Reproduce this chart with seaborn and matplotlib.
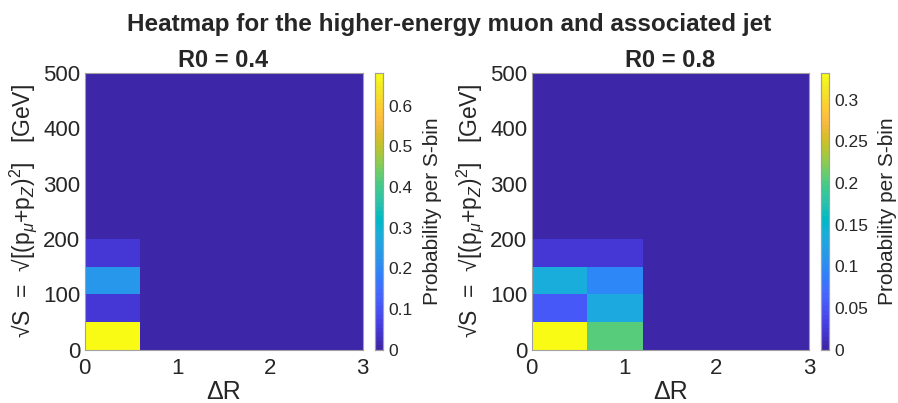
import numpy as np
import pandas as pd
import matplotlib
matplotlib.use("Agg")
import matplotlib.pyplot as plt
from matplotlib.colors import ListedColormap
import seaborn as sns

# ---- data ----
dr_edges = [0.0, 0.6, 1.2, 1.8, 2.4, 3.0]          # Delta R bin edges
s_edges = [0, 50, 100, 150, 200, 250, 300, 350, 400, 450, 500]  # sqrt(S) bin edges [GeV]
x_tick_vals = [0, 1, 2, 3]
y_tick_vals = [0, 100, 200, 300, 400, 500]
cb1_ticks = [0, 0.1, 0.2, 0.3, 0.4, 0.5, 0.6]
cb2_ticks = [0, 0.05, 0.1, 0.15, 0.2, 0.25, 0.3]

# rows: S bins from 0-50 upward; columns: Delta R bins
r04_col0 = [0.68, 0.045, 0.225, 0.045, 0.0, 0.0, 0.0, 0.0, 0.0, 0.0]
r04_col1 = [0.0] * 10
r04_col2 = [0.0] * 10
r04_col3 = [0.0] * 10
r04_col4 = [0.0] * 10

r08_col0 = [0.332, 0.055, 0.135, 0.021, 0.004, 0.0, 0.0, 0.0, 0.0, 0.0]
r08_col1 = [0.207, 0.132, 0.097, 0.021, 0.004, 0.0, 0.0, 0.0, 0.0, 0.0]
r08_col2 = [0.0] * 10
r08_col3 = [0.0] * 10
r08_col4 = [0.0] * 10

titles = ["R0 = 0.4", "R0 = 0.8"]
suptitle = "Heatmap for the higher-energy muon and associated jet"
cbar_label = "Probability per S-bin"

# ---- parula colormap ----
parula = [
    [0.2422, 0.1504, 0.6603], [0.2504, 0.1650, 0.7076], [0.2578, 0.1818, 0.7511],
    [0.2647, 0.1978, 0.7952], [0.2706, 0.2147, 0.8364], [0.2751, 0.2342, 0.8710],
    [0.2783, 0.2559, 0.8991], [0.2803, 0.2782, 0.9221], [0.2813, 0.3006, 0.9414],
    [0.2810, 0.3228, 0.9579], [0.2795, 0.3447, 0.9717], [0.2760, 0.3667, 0.9829],
    [0.2699, 0.3892, 0.9906], [0.2602, 0.4123, 0.9952], [0.2440, 0.4358, 0.9988],
    [0.2206, 0.4603, 0.9973], [0.1963, 0.4847, 0.9892], [0.1834, 0.5074, 0.9798],
    [0.1786, 0.5289, 0.9682], [0.1764, 0.5499, 0.9520], [0.1687, 0.5703, 0.9359],
    [0.1540, 0.5902, 0.9218], [0.1460, 0.6091, 0.9079], [0.1380, 0.6276, 0.8973],
    [0.1248, 0.6459, 0.8883], [0.1113, 0.6635, 0.8763], [0.0952, 0.6798, 0.8598],
    [0.0689, 0.6948, 0.8394], [0.0297, 0.7082, 0.8163], [0.0036, 0.7203, 0.7917],
    [0.0067, 0.7312, 0.7660], [0.0433, 0.7411, 0.7394], [0.0964, 0.7500, 0.7120],
    [0.1408, 0.7584, 0.6842], [0.1717, 0.7670, 0.6554], [0.1938, 0.7758, 0.6251],
    [0.2161, 0.7843, 0.5923], [0.2470, 0.7918, 0.5567], [0.2906, 0.7973, 0.5188],
    [0.3406, 0.8008, 0.4789], [0.3909, 0.8029, 0.4354], [0.4456, 0.8024, 0.3909],
    [0.5044, 0.7993, 0.3480], [0.5616, 0.7942, 0.3045], [0.6174, 0.7876, 0.2612],
    [0.6720, 0.7793, 0.2227], [0.7242, 0.7698, 0.1910], [0.7738, 0.7598, 0.1646],
    [0.8203, 0.7498, 0.1535], [0.8634, 0.7406, 0.1596], [0.9035, 0.7330, 0.1774],
    [0.9393, 0.7288, 0.2100], [0.9728, 0.7298, 0.2394], [0.9956, 0.7434, 0.2371],
    [0.9970, 0.7659, 0.2199], [0.9952, 0.7893, 0.2028], [0.9892, 0.8136, 0.1885],
    [0.9786, 0.8386, 0.1766], [0.9676, 0.8639, 0.1643], [0.9610, 0.8890, 0.1537],
    [0.9597, 0.9135, 0.1423], [0.9628, 0.9373, 0.1265], [0.9691, 0.9606, 0.1064],
    [0.9769, 0.9839, 0.0805]]
cmap = ListedColormap(parula, name="parula")

sns.set_theme(style="white")
plt.rcParams["font.family"] = ["Liberation Sans", "DejaVu Sans"]
plt.rcParams["mathtext.fontset"] = "custom"
plt.rcParams["mathtext.rm"] = "Liberation Sans"
plt.rcParams["mathtext.it"] = "Liberation Sans:italic"

W, H = 898, 403
fig = plt.figure(figsize=(W / 100, H / 100), dpi=100)

def fx(px):
    return px / W

def fy(py):
    return 1 - py / H

axes_px = [(84.5, 362.5, 375, 383), (531.5, 809, 821, 829)]
top_px, bot_px = 73, 349.5

datasets = [
    np.column_stack([r04_col0, r04_col1, r04_col2, r04_col3, r04_col4]),
    np.column_stack([r08_col0, r08_col1, r08_col2, r08_col3, r08_col4]),
]
cticks = [cb1_ticks, cb2_ticks]
edge_col = "#a0a0a0"
txt_col = "#262626"

nx = len(dr_edges) - 1
ny = len(s_edges) - 1
dx = dr_edges[1] - dr_edges[0]
dy = s_edges[1] - s_edges[0]

for i, (vals, title) in enumerate(zip(datasets, titles)):
    l, r, cl, cr = axes_px[i]
    ax = fig.add_axes([fx(l), fy(bot_px), fx(r - l), fy(top_px) - fy(bot_px)])
    cax = fig.add_axes([fx(cl), fy(bot_px), fx(cr - cl), fy(top_px) - fy(bot_px)])
    df = pd.DataFrame(vals, index=s_edges[:-1], columns=dr_edges[:-1])
    sns.heatmap(df, ax=ax, cmap=cmap, vmin=0, vmax=float(vals.max()),
                cbar=True, cbar_ax=cax, xticklabels=False, yticklabels=False,
                linewidths=0)
    ax.invert_yaxis()
    ax.set_xlim(0, nx)
    ax.set_ylim(0, ny)
    ax.set_xticks([(v - dr_edges[0]) / dx for v in x_tick_vals])
    ax.set_xticklabels([str(v) for v in x_tick_vals])
    ax.set_yticks([(v - s_edges[0]) / dy for v in y_tick_vals])
    ax.set_yticklabels([str(v) for v in y_tick_vals], rotation=0)
    for sp in ax.spines.values():
        sp.set_visible(True)
        sp.set_color(edge_col)
        sp.set_linewidth(0.8)
    ax.tick_params(direction="in", length=3, width=0.6, color="#555555",
                   labelsize=16, labelcolor=txt_col, pad=3,
                   top=True, right=True, bottom=True, left=True)
    ax.tick_params(axis="x", pad=6)
    ax.set_xlabel("ΔR", fontsize=18, color=txt_col, labelpad=1)
    ax.set_ylabel(r"√S  =  √[(p$_{\mu}$+p$_{Z}$)$^{2}$]   [GeV]",
                  fontsize=16.5, color=txt_col, labelpad=3)
    ax.set_title(title, fontsize=17, fontweight="bold", color=txt_col, pad=4)

    cax.set_yticks(cticks[i])
    cax.set_yticklabels([f"{t:g}" for t in cticks[i]])
    cax.tick_params(direction="in", length=2, width=0.6, color="#555555",
                    labelsize=12.5, labelcolor=txt_col, pad=4, right=True)
    for sp in cax.spines.values():
        sp.set_visible(True)
        sp.set_color(edge_col)
        sp.set_linewidth(0.8)
    cax.set_ylabel(cbar_label, fontsize=15, color=txt_col, labelpad=7)

fig.text(0.5, fy(24), suptitle, ha="center", va="center", fontsize=17.5,
         fontweight="bold", color=txt_col)

fig.savefig("out.png", dpi=100)
